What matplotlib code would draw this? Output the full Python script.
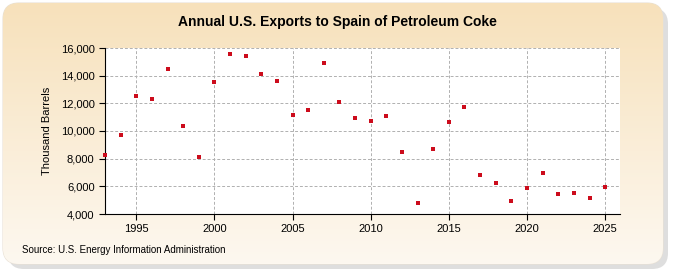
import numpy as np
import matplotlib.pyplot as plt
from matplotlib.patches import FancyBboxPatch

years = list(range(1993, 2026))
exports = [8300, 9720, 12550, 12330, 14500, 10380, 8130, 13560, 15540, 15450,
           14140, 13630, 11170, 11530, 14940, 12110, 10960, 10740, 11100, 8490,
           4800, 8710, 10670, 11750, 6830, 6250, 4950, 5890, 6970, 5450,
           5520, 5160, 5960]
yticks = [4000, 6000, 8000, 10000, 12000, 14000, 16000]
xticks = [1995, 2000, 2005, 2010, 2015, 2020, 2025]

fig = plt.figure(figsize=(6.75, 2.75), dpi=100)
fig.patch.set_facecolor("white")

# background panel with shadow and beige gradient
bg = fig.add_axes([0, 0, 1, 1])
bg.set_xlim(0, 675)
bg.set_ylim(275, 0)
bg.axis("off")
shadow = FancyBboxPatch((8, 8), 660, 261, boxstyle="round,pad=0,rounding_size=16",
                        fc="#c8c8c8", ec="none", alpha=0.6)
bg.add_patch(shadow)
panel = FancyBboxPatch((3, 3), 660, 261, boxstyle="round,pad=0,rounding_size=16",
                       fc="none", ec="#e8e0d4", lw=0.8)
bg.add_patch(panel)
grad = np.linspace(0, 1, 256).reshape(-1, 1)
top = np.array([247, 225, 187]) / 255
bot = np.array([253, 248, 240]) / 255
img = top + (bot - top) * grad[..., None]
im = bg.imshow(img, extent=[3, 663, 264, 3], aspect="auto", zorder=1)
im.set_clip_path(panel)

fig.text(0.5, 0.92, "Annual U.S. Exports to Spain of Petroleum Coke",
         ha="center", va="center", fontsize=10, fontweight="bold",
         family="Liberation Sans")
fig.text(22 / 675, 1 - 250 / 275, "Source: U.S. Energy Information Administration",
         ha="left", va="center", fontsize=7, family="Liberation Sans")

ax = fig.add_axes([105 / 675, 1 - 214 / 275, 515 / 675, 166 / 275])
ax.set_facecolor("white")
ax.scatter(years, exports, marker="s", s=10, color="#cc0c1c", zorder=3,
           linewidths=0, clip_on=False)
ax.set_xlim(1993, 2025.95)
ax.set_ylim(4000, 16000)
ax.set_xticks(xticks)
ax.set_yticks(yticks)
ax.set_yticklabels([f"{v:,}" for v in yticks])
ax.grid(True, color="#b0b0b0", linestyle=(0, (3, 2)), linewidth=0.7)
for s in ["top", "right"]:
    ax.spines[s].set_visible(False)
for s in ["left", "bottom"]:
    ax.spines[s].set_color("black")
ax.tick_params(labelsize=8, length=4, color="black")
for lab in ax.get_xticklabels() + ax.get_yticklabels():
    lab.set_family("Liberation Sans")
ax.set_ylabel("Thousand Barrels", fontsize=8, family="Liberation Sans", labelpad=6)

fig.savefig("out.png", dpi=100)
